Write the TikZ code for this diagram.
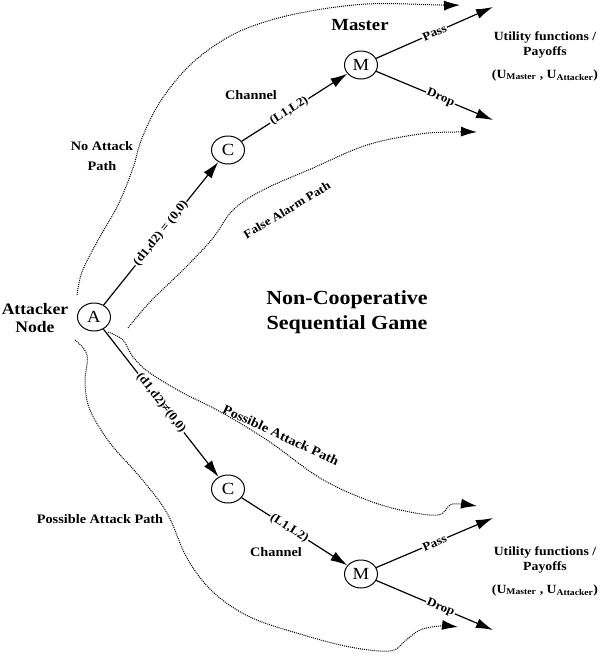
\documentclass[tikz,border=0pt]{standalone}
\usepackage{fontspec}
\setmainfont{Liberation Serif}[FakeStretch=1.1]
\usetikzlibrary{arrows.meta,shapes.geometric,positioning}

\tikzset{
  player/.style={draw, ellipse, line width=1pt, minimum width=33pt, minimum height=28pt,
    inner sep=0pt, font=\fontsize{17}{17}\selectfont},
  move/.style={line width=1.2pt, -{Latex[length=17pt,width=10pt]}},
  guess/.style={line width=1pt, dash pattern=on 1pt off 1pt,
    -{Latex[length=16pt,width=10pt]}},
  lbl/.style={font=\bfseries\fontsize{13}{16}\selectfont, align=center, inner sep=0pt},
  elbl/.style={font=\bfseries\fontsize{12}{12}\selectfont, fill=white, inner sep=1pt, sloped}
}

\begin{document}
\begin{tikzpicture}[x=1pt,y=1pt]
\useasboundingbox (0,0) rectangle (600,-657);

% Players
\node[player] (A) at (94,-317) {A};
\node[player] (C1) at (228,-150) {C};
\node[player] (M1) at (361,-65) {M};
\node[player] (C2) at (228,-489) {C};
\node[player] (M2) at (361,-574) {M};

% Free ends
\coordinate (pass1) at (493,-7);
\coordinate (drop1) at (493,-120);
\coordinate (pass2) at (493,-518);
\coordinate (drop2) at (493,-630);
\coordinate (noatk) at (460,-5);
\coordinate (false) at (477,-132);
\coordinate (atk1) at (477,-506);
\coordinate (atk2) at (458,-627);

% Labels
\node[lbl, font=\bfseries\fontsize{16}{18}\selectfont] (attacker) at (35,-318) {Attacker\\Node};
\node[lbl, font=\bfseries\fontsize{17}{17}\selectfont] (master) at (360,-25) {Master};
\node[lbl] (chan1) at (251,-95) {Channel};
\node[lbl] (chan2) at (276,-552) {Channel};
\node[lbl, font=\bfseries\fontsize{20}{25}\selectfont] (game) at (347,-312) {Non-Cooperative\\Sequential Game};
\node[lbl, font=\bfseries\fontsize{12.5}{15}\selectfont] (pay1) at (545,-56)
  {Utility functions /\\Payoffs\\[8pt](U\textsubscript{Master} , U\textsubscript{Attacker})};
\node[lbl, font=\bfseries\fontsize{12.5}{15}\selectfont] (pay2) at (545,-571)
  {Utility functions /\\Payoffs\\[8pt](U\textsubscript{Master} , U\textsubscript{Attacker})};
\node[lbl] (nolbl) at (102,-156) {No Attack\\[4pt]Path};
\node[lbl, font=\bfseries\fontsize{12}{12}\selectfont, rotate=31] (falselbl) at (287,-210) {False Alarm Path};
\node[lbl, rotate=-25] (atklbl1) at (281,-435) {Possible Attack Path};
\node[lbl] (atklbl2) at (100,-519) {Possible Attack Path};

% Moves
\draw[move] (A) -- node[elbl] {(d1,d2) = (0,0)} (C1);
\draw[move] (C1) -- node[elbl, pos=0.45] {(L1,L2)} (M1);
\draw[move] (M1) -- node[elbl] {Pass} (pass1);
\draw[move] (M1) -- node[elbl, pos=0.55] {Drop} (drop1);
\draw[move] (A) -- node[elbl] {(d1,d2)≠(0,0)} (C2);
\draw[move] (C2) -- node[elbl, pos=0.45] {(L1,L2)} (M2);
\draw[move] (M2) -- node[elbl] {Pass} (pass2);
\draw[move] (M2) -- node[elbl, pos=0.55] {Drop} (drop2);

% Dotted paths
\draw[guess] plot[smooth, tension=0.6] coordinates {(77,-295) (82,-272) (97,-242) (118,-205)
  (133,-168) (142,-138) (160,-102) (187,-68) (217,-44) (250,-27) (300,-13) (367,-4) (440,-5) (noatk)};
\draw[guess] plot[smooth, tension=0.6] coordinates {(128,-328) (150,-302) (187,-266) (213,-238)
  (233,-210) (263,-190) (313,-168) (367,-145) (420,-134) (455,-132) (false)};
\draw[guess] plot[smooth, tension=0.6] coordinates {(108,-332) (123,-340) (133,-357) (150,-373)
  (183,-393) (217,-410) (267,-440) (320,-478) (367,-500) (405,-511) (438,-515) (450,-505) (460,-504) (atk1)};
\draw[guess] plot[smooth, tension=0.6] coordinates {(75,-340) (87,-355) (85,-383) (90,-410)
  (110,-443) (140,-477) (167,-513) (187,-558) (213,-592) (250,-617) (300,-634) (350,-647)
  (390,-651) (405,-641) (420,-630) (440,-626) (atk2)};

\end{tikzpicture}
\end{document}
